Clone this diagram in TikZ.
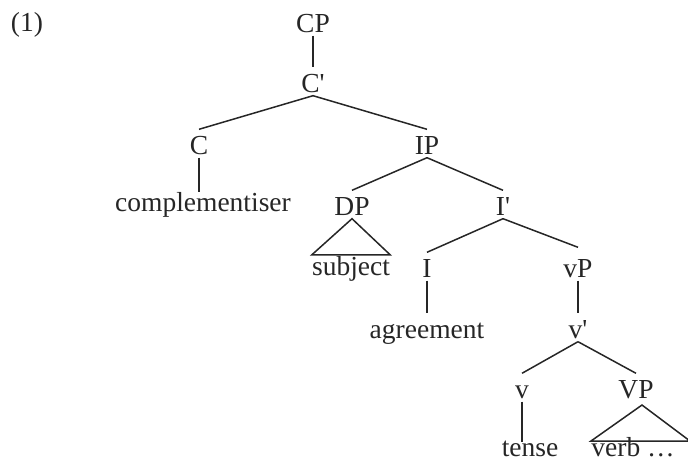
\documentclass[tikz,border=0pt]{standalone}
\usepackage{fontspec}
\setmainfont{Liberation Serif}
\usetikzlibrary{calc}
\begin{document}
\begin{tikzpicture}[x=1pt,y=-1pt,
  lab/.style={anchor=base,inner sep=0pt,text height=24.5pt,text depth=3.5pt,
    font=\fontsize{27.5}{32}\selectfont,text=black!85},
  branch/.style={draw=black!85,line width=1.5pt}]
\useasboundingbox (0,0) rectangle (688,461);
\node[lab] (num) at (27,31) {(1)};
\node[lab] (CP) at (313,32) {CP};
\node[lab] (Cb) at (313,92) {C\textquotesingle};
\node[lab] (C) at (199,154) {C};
\node[lab] (comp) at (203,211) {complementiser};
\node[lab] (IP) at (427,154) {IP};
\node[lab] (DP) at (352,215) {DP};
\node[lab] (subj) at (351,275) {subject};
\node[lab] (Ib) at (503,215) {I\textquotesingle};
\node[lab] (I) at (427,277) {I};
\node[lab] (agr) at (427,338) {agreement};
\node[lab] (vP) at (578,277) {vP};
\node[lab] (vb) at (578,338) {v\textquotesingle};
\node[lab] (v) at (522,398) {v};
\node[lab] (tense) at (530,456) {tense};
\node[lab] (VP) at (636,398) {VP};
\node[lab] (verb) at (633,456) {verb …};
\coordinate (tenseTop) at (522,442);
\coordinate (VPapex) at (642,405);
\coordinate (VPleft) at (591,441);
\coordinate (VPright) at (690,441);
\draw[branch] (CP.south) -- (Cb.north);
\draw[branch] (Cb.south) -- (C.north);
\draw[branch] (Cb.south) -- (IP.north);
\draw[branch] (C.south) -- ([yshift=-5.5pt]comp.north -| C.south);
\draw[branch] (IP.south) -- (DP.north);
\draw[branch] (IP.south) -- (Ib.north);
\draw[branch] (DP.south) -- ([yshift=-4.5pt]subj.north west) -- ([yshift=-4.5pt]subj.north east) -- cycle;
\draw[branch] (Ib.south) -- (I.north);
\draw[branch] (Ib.south) -- ([yshift=5pt]vP.north);
\draw[branch] (I.south) -- (agr.north);
\draw[branch] (vP.south) -- (vb.north);
\draw[branch] (vb.south) -- (v.north);
\draw[branch] (vb.south) -- (VP.north);
\draw[branch] (v.south) -- (tenseTop);
\draw[branch] (VPapex) -- (VPleft) -- (VPright) -- cycle;
\end{tikzpicture}
\end{document}
